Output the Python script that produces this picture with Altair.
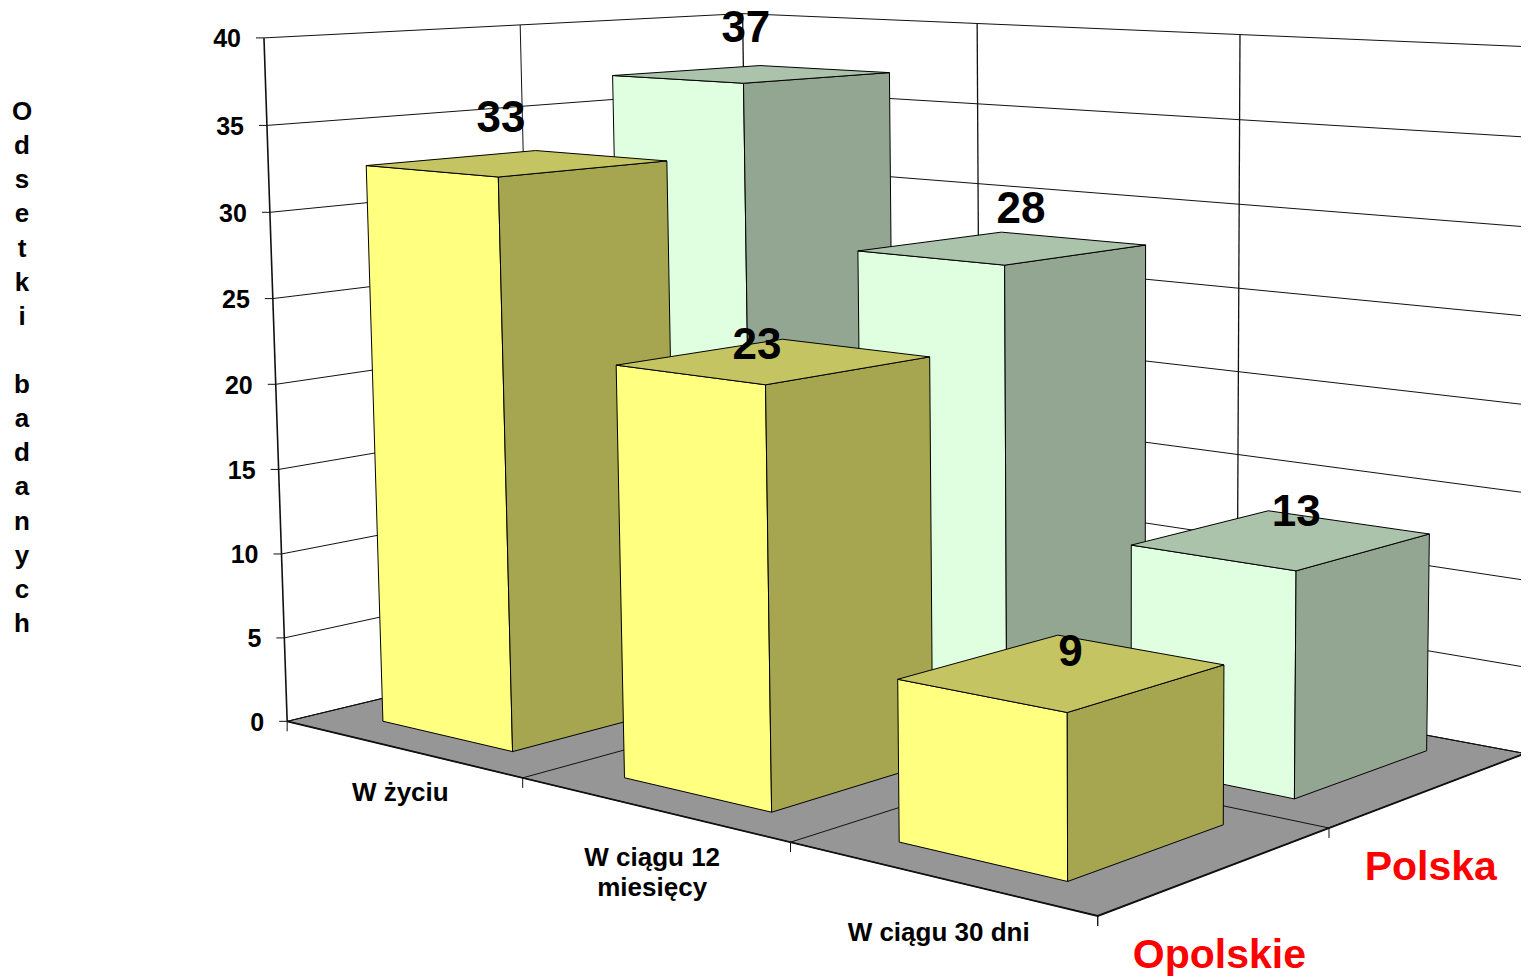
import numpy as np
import pandas as pd
import altair as alt

categories = ["W życiu", "W ciągu 12\nmiesięcy", "W ciągu 30 dni"]
series = ["Opolskie", "Polska"]
opolskie = [32.7, 23.0, 8.6]
polska = [36.9, 27.5, 12.55]
ticks = [0, 5, 10, 15, 20, 25, 30, 35, 40]
axis_title = "Odsetki badanych"

# perspective camera: world (category, series, value) -> page pixel
P = np.array([[204.012308, 287.736477, -0.758924, 287.169922],
              [9.665982, -10.8156, -17.110872, 721.313028],
              [-0.060283, 0.073969, -0.000678, 1.0]])

def project(X, Y, Z):
    h = P @ np.array([X, Y, Z, 1.0])
    return float(h[0]/h[2]), float(h[1]/h[2])

X_LEFT, X_RIGHT, Y_FRONT, Y_BACK = 0.216, 0.768, 0.18, 0.848
SHADES = {
    "Opolskie": ("#FFFF80", "#A6A650", "#C4C462"),
    "Polska": ("#E0FFE0", "#93A692", "#ABC2AB"),
}

rows = []
def poly(pid, color, pts):
    pts = list(pts) + [pts[0]]
    for i, p in enumerate(pts):
        x, y = project(*p)
        rows.append(dict(p=pid, c=color, i=i, x=x, y=y))

for s, vals in [(1, polska), (0, opolskie)]:
    for c, v in enumerate(vals):
        X0, X1, Y0, Y1 = c+X_LEFT, c+X_RIGHT, s+Y_FRONT, s+Y_BACK
        front, side, top = SHADES[series[s]]
        poly(f"{s}{c}f", front, [(X0,Y0,0),(X1,Y0,0),(X1,Y0,v),(X0,Y0,v)])
        poly(f"{s}{c}s", side, [(X1,Y0,0),(X1,Y1,0),(X1,Y1,v),(X1,Y0,v)])
        poly(f"{s}{c}t", top, [(X0,Y0,v),(X1,Y0,v),(X1,Y1,v),(X0,Y1,v)])
bars = pd.DataFrame(rows)

rows = []
poly("floor", "#969696", [(0,0,0),(3,0,0),(3,2,0),(0,2,0)])
floor = pd.DataFrame(rows)

lrows = []
def line(pid, pts, dx=0, dy=0, w=1.0):
    for i, p in enumerate(pts):
        x, y = project(*p)
        lrows.append(dict(p=pid, i=i, w=w, x=x+dx*(i>0), y=y+dy*(i>0)))
for z in ticks:
    line(f"g{z}", [(0,0,z),(0,2,z),(3,2,z)])
    line(f"t{z}", [(0,0,z),(0,0,z)], dx=-8)
line("v0", [(0,0,0),(0,0,40)], w=1.6)
line("v1", [(0,1,0),(0,1,40)])
for c in range(4):
    line(f"w{c}", [(c,2,0),(c,2,40)], w=1.3)
line("f0", [(0,0,0),(3,0,0),(3,2,0)], w=1.8)
for c in (1,2):
    line(f"fx{c}", [(c,0,0),(c,2,0)])
line("fy", [(0,1,0),(3,1,0)])
for c in range(4):
    line(f"tx{c}", [(c,0,0),(c,0,0)], dy=10)
for s in range(3):
    line(f"ty{s}", [(3,s,0),(3,s,0)], dy=10)
lines = pd.DataFrame(lrows)

# text placement relative to the projected anchor, in pixels
VALUE_NUDGE = {(0,0):(-15,-40), (0,1):(-16,-16), (0,2):(9,-13),
               (1,0):(-5,-44), (1,1):(19,-30), (1,2):(15,-19.5)}
val_rows = []
for s, vals in enumerate([opolskie, polska]):
    for c, v in enumerate(vals):
        x, y = project(c+0.5, s+0.5, round(v))
        nx, ny = VALUE_NUDGE[(s, c)]
        val_rows.append(dict(x=x+nx, y=y+ny, t=str(round(v))))
val_df = pd.DataFrame(val_rows)

tick_df = pd.DataFrame([dict(x=project(0,0,z)[0], y=project(0,0,z)[1], t=str(z)) for z in ticks])

CAT_NUDGE = [(-1, 31), (0, 36), (0, 42)]
cat_df = pd.DataFrame([dict(x=project(c+0.5,0,0)[0]+CAT_NUDGE[c][0], y=project(c+0.5,0,0)[1]+CAT_NUDGE[c][1], t=t)
                       for c, t in enumerate(categories)])
SER_NUDGE = [(1, 86), (0, 79)]
ser_df = pd.DataFrame([dict(x=project(3,s+0.5,0)[0]+SER_NUDGE[s][0], y=project(3,s+0.5,0)[1]+SER_NUDGE[s][1], t=t)
                       for s, t in enumerate(series)])
title_df = pd.DataFrame([dict(t=ch, x=22, y=120+34.13*i) for i, ch in enumerate(axis_title) if ch != " "])

FONT = "Liberation Sans"
ex = alt.X("x:Q", scale=alt.Scale(domain=[8,1521], nice=False, zero=False), axis=None)
ey = alt.Y("y:Q", scale=alt.Scale(domain=[976,8], nice=False, zero=False), axis=None)

def polys(df):
    return alt.Chart(df).mark_line(stroke="black", strokeWidth=1).encode(
        x=ex, y=ey, detail="p:N", order="i:Q", fill=alt.Fill("c:N", scale=None))

chart = alt.layer(
    polys(floor),
    alt.Chart(lines).mark_line(stroke="#111111").encode(
        x=ex, y=ey, detail="p:N", order="i:Q", strokeWidth=alt.StrokeWidth("w:Q", scale=None)),
    polys(bars),
    alt.Chart(val_df).mark_text(font=FONT, fontWeight="bold", fontSize=44, color="black").encode(x=ex, y=ey, text="t:N"),
    alt.Chart(tick_df).mark_text(font=FONT, fontWeight="bold", fontSize=25, align="right", dx=-23, dy=1.5, color="black").encode(x=ex, y=ey, text="t:N"),
    alt.Chart(cat_df).mark_text(font=FONT, fontWeight="bold", fontSize=26, lineBreak="\n", lineHeight=30, baseline="top", color="black").encode(x=ex, y=ey, text="t:N"),
    alt.Chart(ser_df).mark_text(font=FONT, fontWeight="bold", fontSize=41, color="#FF0000").encode(x=ex, y=ey, text="t:N"),
    alt.Chart(title_df).mark_text(font=FONT, fontWeight="bold", fontSize=26, baseline="alphabetic", color="black").encode(x=ex, y=ey, text="t:N"),
).properties(width=1513, height=968, padding=0, autosize=alt.AutoSizeParams(type="none")).configure_view(stroke=None)

chart.save("out.html", embed_options={"renderer": "svg", "actions": False})
